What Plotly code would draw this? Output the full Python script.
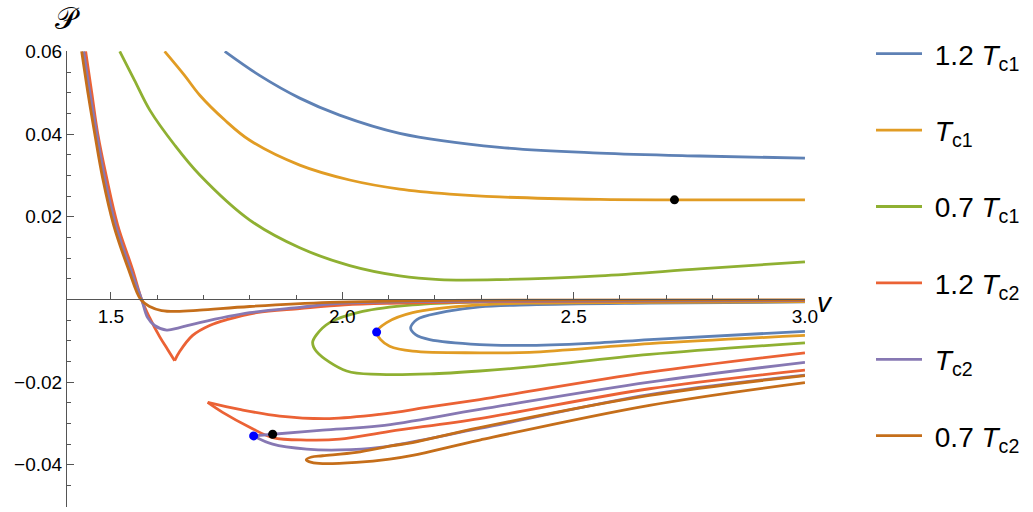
import plotly.graph_objects as go

# ---------------- data (v, P) ----------------
series_names = ["\u00a01.2 <i>T</i><sub>c1</sub>", "\u00a0<i>T</i><sub>c1</sub>", "\u00a00.7 <i>T</i><sub>c1</sub>",
                "\u00a01.2 <i>T</i><sub>c2</sub>", "\u00a0<i>T</i><sub>c2</sub>", "\u00a00.7 <i>T</i><sub>c2</sub>"]
colors = ["rgb(94,129,181)", "rgb(225,156,36)", "rgb(143,176,50)",
          "rgb(235,98,53)", "rgb(135,120,179)", "rgb(197,110,26)"]

# 1.2 Tc1
b1_up_v = [1.746, 1.821, 1.908, 1.994, 2.124, 2.340, 2.556, 2.772, 3.0]
b1_up_P = [0.0600, 0.0542, 0.0487, 0.0446, 0.0402, 0.0368, 0.0354, 0.0347, 0.0342]
b1_loop_v = [3.0, 2.664, 2.405, 2.297, 2.2255, 2.1672, 2.1564, 2.1477, 2.1585, 2.1888, 2.297, 2.405, 2.556, 2.664, 3.0]
b1_loop_P = [-0.0006, -0.0009, -0.0013, -0.0018, -0.0029, -0.0045, -0.0053, -0.0069, -0.0085, -0.0097, -0.0109, -0.0111, -0.0105, -0.0097, -0.0077]

# Tc1
o_up_v = [1.616, 1.659, 1.692, 1.746, 1.800, 1.908, 2.016, 2.124, 2.232, 2.340, 2.556, 2.718, 3.0]
o_up_P = [0.0600, 0.0542, 0.0494, 0.0434, 0.0385, 0.0325, 0.0289, 0.0267, 0.0255, 0.0248, 0.0242, 0.0241, 0.0241]
o_loop_v = [3.0, 2.664, 2.405, 2.297, 2.152, 2.0958, 2.0742, 2.0829, 2.1023, 2.152, 2.297, 2.405, 2.664, 3.0]
o_loop_P = [-0.0005, -0.0007, -0.0009, -0.0013, -0.0032, -0.0056, -0.0079, -0.0097, -0.0113, -0.0125, -0.0129, -0.0128, -0.0107, -0.0087]

# 0.7 Tc1
g_up_v = [1.519, 1.551, 1.584, 1.638, 1.692, 1.800, 1.908, 2.016, 2.124, 2.210, 2.340, 2.556, 2.772, 3.0]
g_up_P = [0.0600, 0.0530, 0.0458, 0.0373, 0.0301, 0.0192, 0.0125, 0.0082, 0.0057, 0.0048, 0.0048, 0.0057, 0.0074, 0.0091]
g_loop_v = [3.0, 2.664, 2.405, 2.297, 2.152, 2.044, 1.9727, 1.9445, 1.9359, 1.9445, 2.0094, 2.0807, 2.1888, 2.297, 2.405, 2.664, 3.0]
g_loop_P = [-0.0003, -0.0004, -0.0005, -0.0006, -0.0013, -0.0029, -0.0056, -0.0085, -0.0104, -0.0126, -0.0173, -0.0181, -0.0180, -0.0173, -0.0163, -0.0133, -0.0105]

# 1.2 Tc2
r_down_v = [1.4453, 1.4585, 1.4713, 1.4907, 1.5145, 1.5469, 1.5663, 1.5836, 1.6052, 1.6225, 1.6377]
r_down_P = [0.0600, 0.0500, 0.0402, 0.0294, 0.0180, 0.0072, -0.00005, -0.0044, -0.0090, -0.0121, -0.0148]
r_rise_v = [1.6377, 1.6485, 1.6766, 1.7133, 1.7501, 1.8149, 1.9079, 2.0051, 2.124, 2.340, 3.0]
r_rise_P = [-0.0148, -0.0126, -0.0087, -0.0063, -0.0049, -0.0032, -0.0022, -0.0013, -0.0009, -0.0005, -0.0003]
r_lo_up_v = [1.709, 1.7781, 1.8646, 1.9727, 2.0807, 2.1888, 2.297, 2.664, 3.0]
r_lo_up_P = [-0.0249, -0.0266, -0.0282, -0.0288, -0.0278, -0.0260, -0.0242, -0.0176, -0.0129]
r_lo_lo_v = [1.709, 1.7414, 1.7998, 1.8495, 1.923, 1.9943, 2.1023, 2.297, 2.664, 3.0]
r_lo_lo_P = [-0.0249, -0.0273, -0.0309, -0.0334, -0.0340, -0.0338, -0.0319, -0.0288, -0.0216, -0.0171]

# Tc2
p_up_v = [1.441, 1.4545, 1.4691, 1.4864, 1.5102, 1.5426, 1.5663, 1.5793, 1.5944, 1.6204, 1.6485, 1.6917, 1.7998, 1.9079, 2.0051, 2.340, 3.0]
p_up_P = [0.0600, 0.0500, 0.0402, 0.0294, 0.0180, 0.0072, 0.0000, -0.0044, -0.0063, -0.0074, -0.0068, -0.0056, -0.0032, -0.0019, -0.0009, -0.0004, -0.0002]
p_lo_up_v = [1.8084, 1.8495, 1.9575, 2.0807, 2.297, 2.664, 3.0]
p_lo_up_P = [-0.0330, -0.0326, -0.0316, -0.0306, -0.0266, -0.0200, -0.0152]
p_lo_lo_v = [1.8084, 1.8495, 1.923, 1.9943, 2.0807, 2.297, 2.664, 3.0]
p_lo_lo_P = [-0.0330, -0.0350, -0.0362, -0.0364, -0.0358, -0.0312, -0.0230, -0.0183]

# 0.7 Tc2
br_up_v = [1.4367, 1.4502, 1.4648, 1.482, 1.5058, 1.5383, 1.5642, 1.5836, 1.6096, 1.642, 1.6917, 1.7998, 1.9727, 2.232, 3.0]
br_up_P = [0.0600, 0.0500, 0.0402, 0.0294, 0.0180, 0.0072, 0.0000, -0.0017, -0.0027, -0.0029, -0.0026, -0.0017, -0.0007, -0.0002, -0.0001]
br_loop_v = [3.0, 2.664, 2.297, 2.152, 2.1023, 2.0304, 1.9575, 1.9337, 1.9222, 1.9337, 1.9575, 2.0304, 2.1023, 2.152, 2.297, 2.664, 3.0]
br_loop_P = [-0.0184, -0.0232, -0.0310, -0.0346, -0.0355, -0.0370, -0.0378, -0.0381, -0.0388, -0.0394, -0.0397, -0.0394, -0.0386, -0.0377, -0.0340, -0.0256, -0.0201]

# special points
crit_v = [2.718, 1.8495]
crit_P = [0.0241, -0.0326]
spin_v = [2.0742, 1.8084]
spin_P = [-0.0079, -0.0330]

branches = [
    [(b1_up_v, b1_up_P), (b1_loop_v, b1_loop_P)],
    [(o_up_v, o_up_P), (o_loop_v, o_loop_P)],
    [(g_up_v, g_up_P), (g_loop_v, g_loop_P)],
    [(r_down_v, r_down_P), (r_rise_v, r_rise_P), (r_lo_up_v, r_lo_up_P), (r_lo_lo_v, r_lo_lo_P)],
    [(p_up_v, p_up_P), (p_lo_up_v, p_lo_up_P), (p_lo_lo_v, p_lo_lo_P)],
    [(br_up_v, br_up_P), (br_loop_v, br_loop_P)],
]

fig = go.Figure()
for name, col, brs in zip(series_names, colors, branches):
    xs, ys = [], []
    for bv, bp in brs:
        if xs:
            xs.append(None); ys.append(None)
        xs += bv; ys += bp
    fig.add_trace(go.Scatter(x=xs, y=ys, mode="lines", name=name, legendgroup=name,
                             line=dict(color=col, width=2.8, shape="spline", smoothing=1.0),
                             connectgaps=False))

fig.add_trace(go.Scatter(x=spin_v, y=spin_P, mode="markers", showlegend=False,
                         marker=dict(color="rgb(0,0,255)", size=9)))
fig.add_trace(go.Scatter(x=crit_v, y=crit_P, mode="markers", showlegend=False,
                         marker=dict(color="black", size=9)))

ymin, ymax = -0.0502, 0.0601
axcol = "#555555"
fig.update_layout(
    width=1033, height=512,
    margin=dict(l=67, r=228, t=51, b=5),
    paper_bgcolor="white", plot_bgcolor="white",
    font=dict(family="Liberation Sans, Arial, sans-serif", color="black"),
    legend=dict(xref="container", yref="container", x=871 / 1033, y=1 - 29 / 512,
                xanchor="left", yanchor="top", font=dict(size=28),
                tracegroupgap=37, traceorder="grouped", itemwidth=46, maxheight=510,
                bgcolor="rgba(0,0,0,0)"),
    xaxis=dict(range=[1.405, 3.0001], anchor="free", position=(0 - ymin) / (ymax - ymin),
               showline=True, linecolor=axcol, linewidth=1, showgrid=False, zeroline=False,
               ticks="inside", ticklen=7, tickcolor=axcol, tick0=1.5, dtick=0.5,
               tickformat=".1f", tickfont=dict(size=19),
               minor=dict(dtick=0.1, tick0=1.4, ticks="inside", ticklen=4, tickcolor=axcol, showgrid=False)),
    yaxis=dict(range=[ymin, ymax], showline=True, linecolor=axcol, linewidth=1, showgrid=False,
               zeroline=False, ticks="inside", ticklen=7, tickcolor=axcol,
               tickmode="array", tickvals=[-0.04, -0.02, 0.02, 0.04, 0.06],
               ticktext=["\u22120.04", "\u22120.02", "0.02", "0.04", "0.06"], tickfont=dict(size=19),
               minor=dict(tickmode="linear", tick0=0, dtick=0.005, ticks="inside", ticklen=4,
                          tickcolor=axcol, showgrid=False)),
)

fig.add_annotation(text="\U0001D4AB", xref="paper", yref="paper", x=0, y=1, xanchor="center",
                   yanchor="bottom", yshift=14, showarrow=False, font=dict(size=30, color="black"))
fig.add_annotation(text="<i>v</i>", xref="paper", yref="y", x=1, y=0, xanchor="left",
                   yanchor="middle", xshift=10, yshift=-3, showarrow=False, font=dict(size=28, color="black"))

fig.write_html("out.html", config={"displayModeBar": False},
               post_script="document.body.style.margin='0px';")
